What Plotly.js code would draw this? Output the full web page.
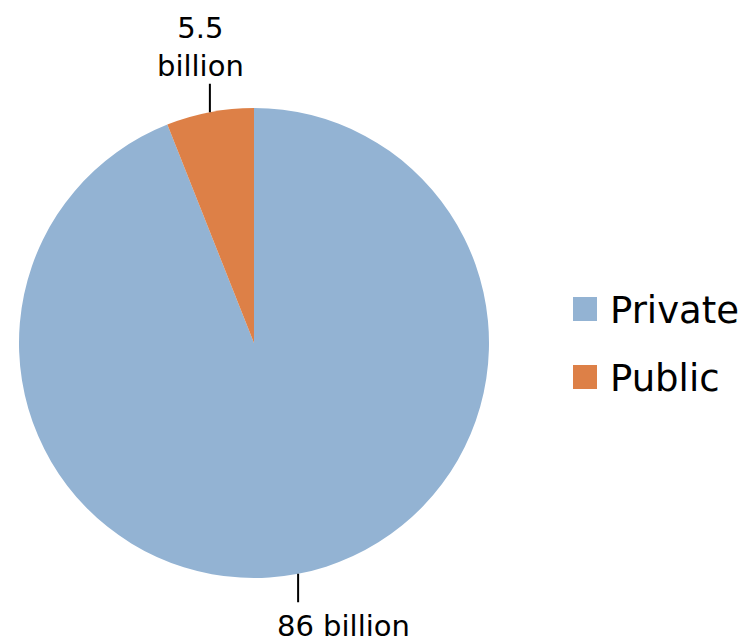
<!DOCTYPE html>
<html><head><meta charset="utf-8">
<script src="https://cdn.plot.ly/plotly-3.0.1.min.js"></script>
<style>html,body{margin:0;padding:0;background:#fff}</style>
</head><body><div id="chart" style="width:753px;height:643px"></div>
<script>
const categories = ["Private", "Public"];
const values = [86, 5.5];
const valueLabels = ["86 billion", "5.5<br>billion"];
const colors = ["#93B3D3", "#DD8047"];

const W = 753, H = 643;
const CX = 254, CY = 343, R = 235; // pixel layout of pie
const FONT = "DejaVu Sans, sans-serif";

const total = values.reduce((a, b) => a + b, 0);
const annotations = [];
const shapes = [];
let cum = 0;
values.forEach((v, i) => {
  const mid = (cum + v / 2) / total * 2 * Math.PI; // clockwise from top
  cum += v;
  const ex = CX + R * Math.sin(mid);
  const ey = CY - R * Math.cos(mid);
  const up = Math.cos(mid) > 0;
  const len = 30;
  const tailY = up ? ey - len : ey + len;
  annotations.push({
    xref: "paper", yref: "paper", x: ex / W, y: 1 - ey / H,
    text: "", showarrow: true, arrowhead: 0, arrowwidth: 2, arrowcolor: "#000",
    ax: 0, ay: tailY - ey, standoff: 0, startstandoff: 0
  });
  annotations.push({
    xref: "paper", yref: "paper",
    x: (ex + (up ? -9 : 45)) / W, y: 1 - (tailY + (up ? 3 : 3)) / H,
    text: valueLabels[i], showarrow: false,
    xanchor: "center", yanchor: up ? "bottom" : "top",
    font: {family: FONT, size: 29, color: "#000"}
  });
});

// legend drawn from categories/colors
const LX = 573, LY0 = 309, LGAP = 68, SQ = 24;
categories.forEach((c, i) => {
  const yc = LY0 + i * LGAP;
  shapes.push({
    type: "rect", xref: "paper", yref: "paper",
    x0: LX / W, x1: (LX + SQ) / W, y0: 1 - (yc - SQ / 2) / H, y1: 1 - (yc + SQ / 2) / H,
    fillcolor: colors[i], line: {width: 0}
  });
  annotations.push({
    xref: "paper", yref: "paper", x: (LX + SQ + 11) / W, y: 1 - (yc + 1) / H,
    text: c, showarrow: false, xanchor: "left", yanchor: "middle",
    font: {family: FONT, size: 37, color: "#000"}
  });
});

const data = [{
  type: "pie",
  labels: categories,
  values: values,
  marker: {colors: colors, line: {color: "#fff", width: 0}},
  textinfo: "none",
  hoverinfo: "label+value",
  sort: false,
  direction: "clockwise",
  rotation: 0,
  domain: {x: [(CX - R) / W, (CX + R) / W], y: [(H - CY - R) / H, (H - CY + R) / H]}
}];

const layout = {
  width: W, height: H,
  margin: {l: 0, r: 0, t: 0, b: 0},
  paper_bgcolor: "#fff",
  showlegend: false,
  annotations: annotations,
  shapes: shapes
};
Plotly.newPlot("chart", data, layout, {displayModeBar: false});
</script></body></html>
